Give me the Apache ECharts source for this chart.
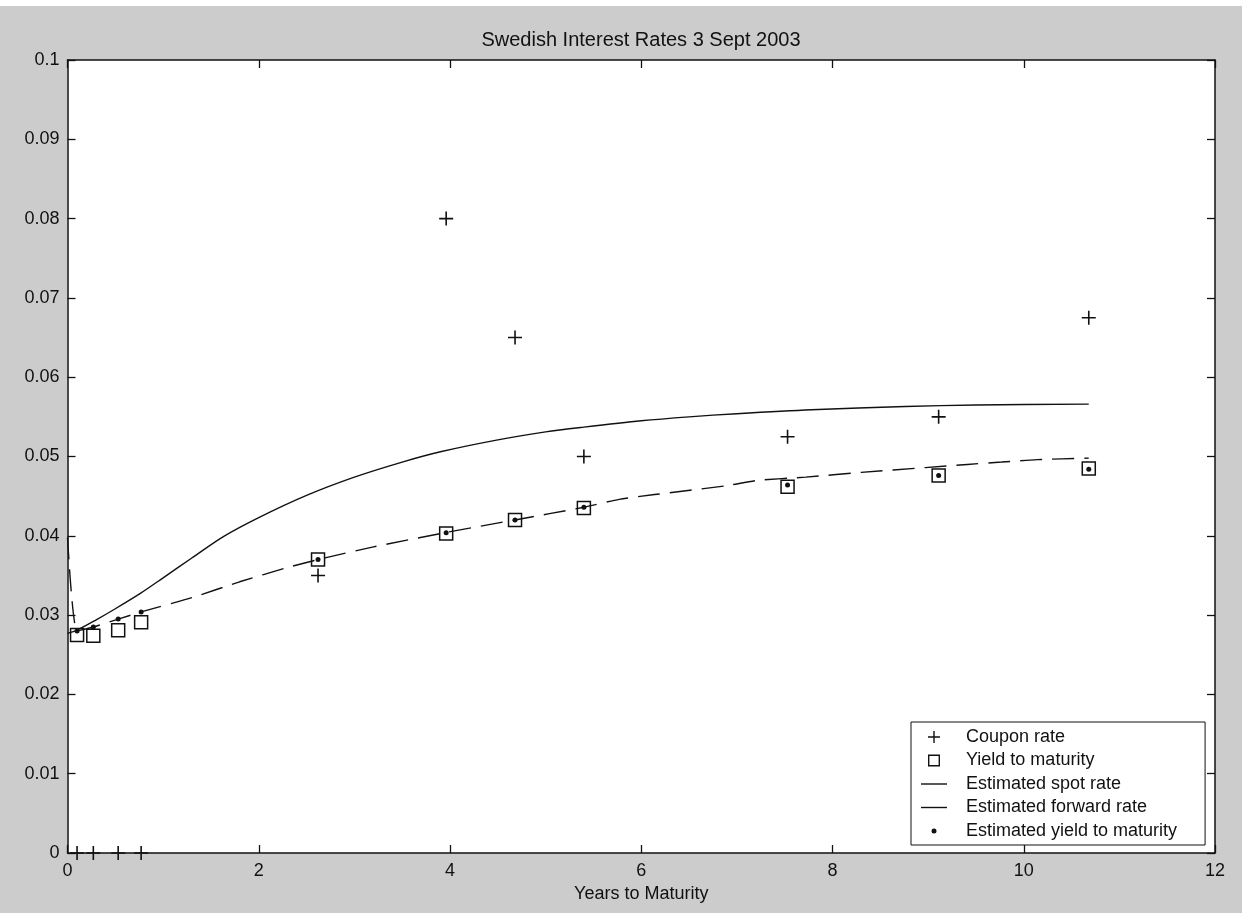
<!DOCTYPE html>
<html>
<head>
<meta charset="utf-8">
<title>Swedish Interest Rates 3 Sept 2003</title>
<script src="https://cdn.jsdelivr.net/npm/echarts@6/dist/echarts.min.js"></script>
<style>
  html, body { margin: 0; padding: 0; background: #fff; }
  #chart { width: 1242px; height: 913px; }
</style>
</head>
<body>
<div id="chart"></div>
<script>
// bonds: years to maturity
const maturities = [0.1, 0.27, 0.53, 0.77, 2.62, 3.96, 4.68, 5.40, 7.53, 9.11, 10.68]
const couponRate = [0, 0, 0, 0, 0.035, 0.080, 0.065, 0.050, 0.0525, 0.055, 0.0675]
const yieldToMaturity = [0.0275, 0.0274, 0.0281, 0.0291, 0.0370, 0.0403, 0.0420, 0.0435, 0.0462, 0.0476, 0.0485]
const estYield = [0.0280, 0.0285, 0.0295, 0.0304, 0.0370, 0.0404, 0.0420, 0.0436, 0.0464, 0.0476, 0.0484]

// estimated curves
const spotYears = [0, 0.1, 0.3, 0.5, 0.77, 1.0, 1.3, 1.63, 2.0, 2.5, 3.0, 3.5, 3.9, 4.5, 5.0, 5.4, 6.0, 6.5, 7.0, 7.78, 8.76, 9.5, 10.68]
const spotRate = [0.0277, 0.0281, 0.0294, 0.0308, 0.0328, 0.0347, 0.0372, 0.0399, 0.0423, 0.0451, 0.0474, 0.0493, 0.0506, 0.0521, 0.0531, 0.0537, 0.0545, 0.0550, 0.0554, 0.0559, 0.0563, 0.0565, 0.0566]
const fwdYears = [0, 0.1, 0.27, 0.53, 0.77, 1.3, 1.8, 2.3, 2.62, 3.2, 3.95, 4.68, 5.4, 5.77, 6.14, 6.88, 7.22, 7.72, 8.3, 8.97, 9.41, 9.77, 10.14, 10.68]
const fwdRate = [0.0398, 0.0280, 0.0285, 0.0295, 0.0304, 0.0322, 0.0342, 0.0360, 0.0370, 0.0386, 0.0404, 0.0420, 0.0436, 0.0446, 0.0452, 0.0463, 0.0470, 0.0474, 0.0480, 0.0486, 0.0490, 0.0493, 0.0496, 0.0498]

const pair = (xs, ys) => xs.map((x, i) => [x, ys[i]])

const FONT = '"Liberation Sans", Arial, sans-serif'
const INK = '#111'
const PLUS = 'path://M0,6.2H14V7.8H0Z M6.2,0H7.8V14H6.2Z'
// legend-only icons (keep aspect inside a 26x12 box)
const ICON_PLUS = 'path://M0,5.3H12V6.7H0Z M5.3,0H6.7V12H5.3Z'
const ICON_SQUARE = 'path://M0,0H12V12H0Z M1.4,1.4V10.6H10.6V1.4Z'
const ICON_LINE = 'path://M0,0H26V1.4H0Z'
const ICON_DOT = 'path://M0,0M12,12M3.5,6A2.5,2.5 0 1,0 8.5,6A2.5,2.5 0 1,0 3.5,6Z'

const chart = echarts.init(document.getElementById('chart'))

const axisCommon = {
  type: 'value',
  axisLine: { show: true, onZero: false, lineStyle: { color: INK, width: 1.5 } },
  axisTick: { show: true, inside: true, length: 8, lineStyle: { color: INK, width: 1.3 } },
  splitLine: { show: false }
}

const option = {
  animation: false,
  backgroundColor: '#cccccc',
  textStyle: { fontFamily: FONT },
  title: {
    text: 'Swedish Interest Rates 3 Sept 2003',
    left: 641, textAlign: 'center',
    top: 30, padding: 0,
    textStyle: { fontSize: 20, fontWeight: 'normal', color: INK, fontFamily: FONT }
  },
  graphic: [
    { type: 'rect', left: 0, top: 0, shape: { width: 1242, height: 6 }, style: { fill: '#fff' } }
  ],
  grid: {
    left: 67.5, right: 27, top: 60, bottom: 60,
    show: true, backgroundColor: '#fff', borderWidth: 0
  },
  legend: {
    orient: 'vertical',
    left: 911, top: 722,
    padding: [6, 28, 5, 10],
    itemGap: 5.5,
    itemWidth: 26, itemHeight: 12,
    symbolKeepAspect: true,
    backgroundColor: '#fff',
    borderColor: INK, borderWidth: 1, borderRadius: 0,
    textStyle: { fontSize: 18, color: INK, fontFamily: FONT, padding: [0, 0, 0, 14] },
    data: [
      { name: 'Coupon rate', icon: ICON_PLUS, itemStyle: { color: INK } },
      { name: 'Yield to maturity', icon: ICON_SQUARE, itemStyle: { color: INK, borderWidth: 0 } },
      { name: 'Estimated spot rate', icon: ICON_LINE, itemStyle: { color: INK } },
      { name: 'Estimated forward rate', icon: ICON_LINE, itemStyle: { color: INK } },
      { name: 'Estimated yield to maturity', icon: ICON_DOT, itemStyle: { color: INK } }
    ]
  },
  xAxis: [
    Object.assign({}, axisCommon, {
      position: 'bottom', min: 0, max: 12, interval: 2,
      axisLabel: { margin: 9, fontSize: 18, color: INK, fontFamily: FONT },
      name: 'Years to Maturity', nameLocation: 'middle', nameGap: 32,
      nameTextStyle: { fontSize: 18, color: INK, fontFamily: FONT }
    }),
    Object.assign({}, axisCommon, {
      position: 'top', min: 0, max: 12, interval: 2,
      axisLabel: { show: false }
    })
  ],
  yAxis: [
    Object.assign({}, axisCommon, {
      position: 'left', min: 0, max: 0.1, interval: 0.01,
      axisLabel: {
        margin: 8, fontSize: 18, color: INK, fontFamily: FONT,
        formatter: v => String(+v.toFixed(2))
      }
    }),
    Object.assign({}, axisCommon, {
      position: 'right', min: 0, max: 0.1, interval: 0.01,
      axisLabel: { show: false }
    })
  ],
  series: [
    {
      name: 'Coupon rate', type: 'scatter',
      data: pair(maturities, couponRate),
      symbol: PLUS, symbolSize: 14,
      itemStyle: { color: INK, opacity: 1 },
      clip: false, z: 4
    },
    {
      name: 'Yield to maturity', type: 'scatter',
      data: pair(maturities, yieldToMaturity),
      symbol: 'rect', symbolSize: 13,
      itemStyle: { color: 'rgba(255,255,255,0)', borderColor: INK, borderWidth: 1.5, opacity: 1 },
      z: 4
    },
    {
      name: 'Estimated spot rate', type: 'line',
      data: pair(spotYears, spotRate),
      symbol: 'none', smooth: 0.3,
      lineStyle: { color: INK, width: 1.4 },
      itemStyle: { color: INK },
      z: 3
    },
    {
      name: 'Estimated forward rate', type: 'line',
      data: pair(fwdYears, fwdRate),
      symbol: 'none', smooth: 0.2,
      lineStyle: { color: INK, width: 1.4, type: [22, 10] },
      itemStyle: { color: INK },
      z: 3
    },
    {
      name: 'Estimated yield to maturity', type: 'scatter',
      data: pair(maturities, estYield),
      symbol: 'circle', symbolSize: 5,
      itemStyle: { color: INK, opacity: 1 },
      z: 5
    }
  ]
}

chart.setOption(option)
</script>
</body>
</html>
